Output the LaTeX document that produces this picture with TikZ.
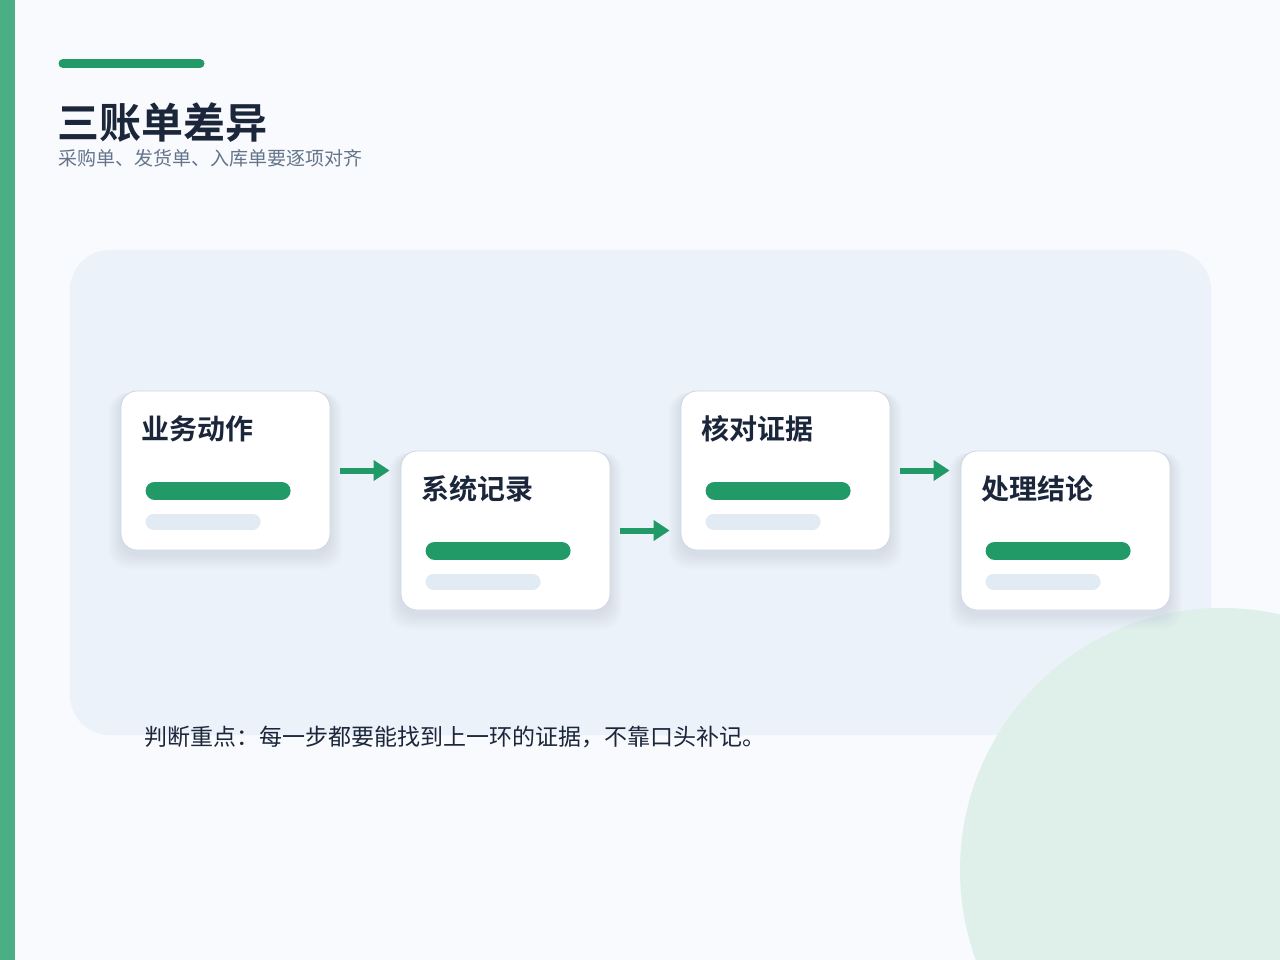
\documentclass[tikz,border=0pt]{standalone}
\usepackage{fontspec}
\setmainfont{Noto Sans CJK SC}
\newfontfamily\cjkbold{Noto Sans CJK SC Bold}
\usetikzlibrary{arrows.meta}
\definecolor{pagebg}{HTML}{F8FAFD}
\definecolor{panelbg}{HTML}{EBF2FA}
\definecolor{accent}{HTML}{229A68}
\definecolor{sidebar}{HTML}{4BAF86}
\definecolor{circlebg}{HTML}{DFF0EA}
\definecolor{ink}{HTML}{1B263B}
\definecolor{subink}{HTML}{64748B}
\definecolor{cardline}{HTML}{CDD6E2}
\definecolor{lightbar}{HTML}{E2EAF4}
\definecolor{shadowc}{HTML}{9AA8C0}
\tikzset{
  card/.style={draw=cardline, line width=0.8pt, fill=white, rounded corners=16pt,
    minimum width=209pt, minimum height=159pt, inner sep=0pt},
  cardtitle/.style={font=\cjkbold\fontsize{28}{30}\selectfont, text=ink, anchor=west, inner sep=0pt},
  greenbar/.style={line width=18pt, line cap=round, draw=accent},
  greybar/.style={line width=16pt, line cap=round, draw=lightbar},
  flow/.style={draw=accent, line width=6pt, -{Triangle[length=16pt,width=20pt]}, shorten <=10pt, shorten >=11pt},
}
\begin{document}
\begin{tikzpicture}[x=1pt,y=-1pt]
\useasboundingbox (0,0) rectangle (1280,960);
\fill[pagebg] (0,0) rectangle (1280,960);
% panel
\fill[panelbg] (70,250) [rounded corners=40pt] rectangle (1211,735);
% circle
\fill[circlebg] (1222,870) circle (262);
% side bar
\fill[sidebar] (0,0) rectangle (15,960);
% top bar
\draw[accent, line width=9pt, line cap=round] (63,63.5) -- (200,63.5);
% title
\node[anchor=base west, inner sep=0pt, font=\cjkbold\fontsize{42}{44}\selectfont, text=ink] (title) at (57,139) {三账单差异};
\node[anchor=base west, inner sep=0pt, font=\fontsize{19}{21}\selectfont, text=subink] (subtitle) at (58,166) {采购单、发货单、入库单要逐项对齐};
% shadows
\foreach \cx/\cy in {225.5/470.5, 505.5/530.5, 785.5/470.5, 1065.5/530.5}{
  \foreach \i in {1,...,10}{
    \fill[shadowc, opacity=0.025, rounded corners=18pt]
      (\cx-104.5-\i*1.2, \cy-79.5+2) rectangle (\cx+104.5+\i*1.2, \cy+79.5+4+\i*1.5);
  }
}
% cards
\node[card] (c1) at (225.5,470.5) {};
\node[card] (c2) at (505.5,530.5) {};
\node[card] (c3) at (785.5,470.5) {};
\node[card] (c4) at (1065.5,530.5) {};
\foreach \c/\t in {c1/业务动作, c2/系统记录, c3/核对证据, c4/处理结论}{
  \node[cardtitle] (\c t) at ([xshift=21pt,yshift=-38pt]\c.north west) {\t};
  \draw[greenbar] ([xshift=34pt,yshift=-100pt]\c.north west) -- ([xshift=161pt,yshift=-100pt]\c.north west);
  \draw[greybar] ([xshift=33pt,yshift=-131pt]\c.north west) -- ([xshift=132pt,yshift=-131pt]\c.north west);
}
% arrows
\draw[flow] (c1.east) -- (c1.east -| c2.west);
\draw[flow] (c2.east) -- (c2.east -| c3.west);
\draw[flow] (c3.east) -- (c3.east -| c4.west);
% note
\node[anchor=base west, inner sep=0pt, font=\fontsize{23}{25}\selectfont, text=ink] (note) at (144,745) {判断重点：每一步都要能找到上一环的证据，不靠口头补记。};
\end{tikzpicture}
\end{document}
